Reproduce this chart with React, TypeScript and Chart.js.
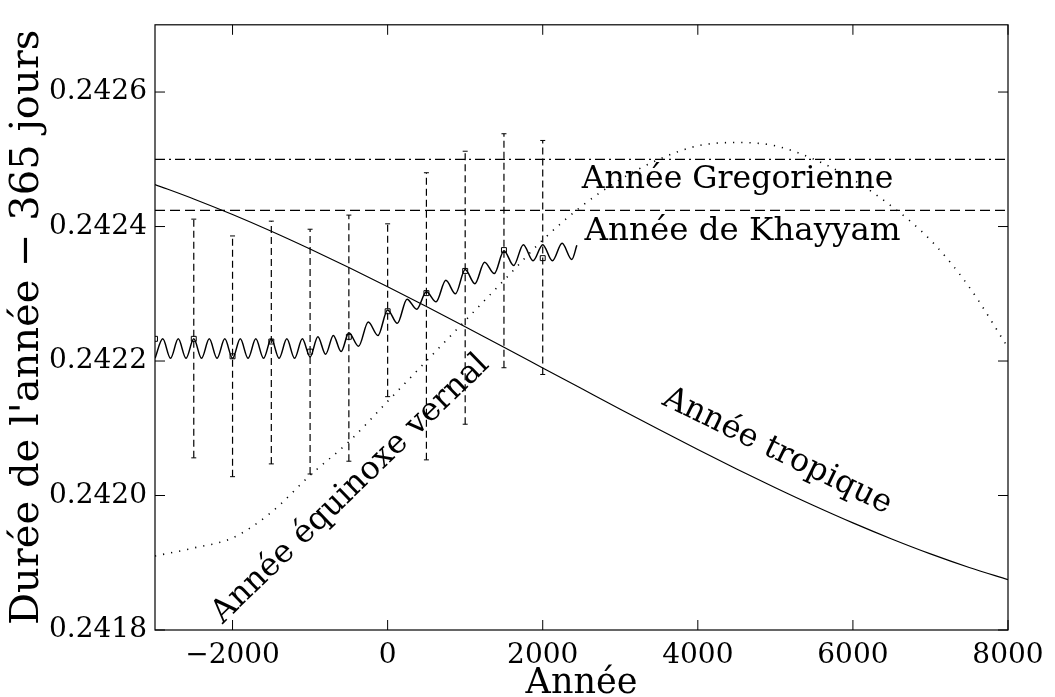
import React, { useEffect, useRef } from "react";
import { Chart, registerables } from "chart.js";

Chart.register(...registerables);

// ---------- data ----------
const xTickValues = [-2000, 0, 2000, 4000, 6000, 8000];
const yTickValues = [0.2418, 0.242, 0.2422, 0.2424, 0.2426];

const curveYears = [
  -3000, -2500, -2000, -1500, -1000, -500, 0, 500, 1000, 1500, 2000, 2500,
  3000, 3500, 4000, 4500, 5000, 5500, 6000, 6500, 7000, 7500, 8000,
];
const tropicalValues = [
  0.2424625, 0.242441, 0.2424178, 0.2423929, 0.2423665, 0.242339, 0.2423104,
  0.242281, 0.2422509, 0.2422204, 0.2421897, 0.242159, 0.2421283, 0.2420981,
  0.2420684, 0.2420395, 0.2420116, 0.2419848, 0.2419593, 0.2419354,
  0.2419132, 0.241893, 0.2418749,
];
const vernalValues = [
  0.24191, 0.241922, 0.241937, 0.241975, 0.24203, 0.24208, 0.24214, 0.2422,
  0.24226, 0.24232, 0.24238, 0.24243, 0.24247, 0.2425, 0.24252, 0.242525,
  0.24252, 0.2425, 0.24247, 0.24243, 0.24238, 0.24231, 0.24222,
];

const waveYears = [
  -3000, -2900, -2800, -2700, -2600, -2500, -2400, -2300, -2200, -2100,
  -2000, -1900, -1800, -1700, -1600, -1500, -1400, -1300, -1200, -1100,
  -1000, -900, -800, -700, -600, -500, -375, -250, -125, 0, 125, 250, 375,
  500, 625, 750, 875, 1000, 1125, 1250, 1375, 1500, 1625, 1750, 1875, 2000,
  2125, 2250, 2375, 2440,
];
const waveValues = [
  0.242204, 0.242233, 0.242204, 0.242233, 0.242204, 0.242233, 0.242204,
  0.242233, 0.242204, 0.242233, 0.242204, 0.242233, 0.242204, 0.242233,
  0.242204, 0.242233, 0.242204, 0.242233, 0.242204, 0.242233, 0.242206,
  0.242236, 0.24221, 0.242238, 0.242214, 0.242242, 0.242222, 0.242258,
  0.242238, 0.242276, 0.242256, 0.242292, 0.242277, 0.242303, 0.242288,
  0.24232, 0.2423, 0.242336, 0.242315, 0.242347, 0.24233, 0.242364,
  0.242342, 0.242373, 0.242349, 0.242373, 0.242349, 0.242375, 0.242351,
  0.242372,
];

const obsYears = [-3000, -2500, -2000, -1500, -1000, -500, 0, 500, 1000, 1500, 2000];
const obsValues = [
  0.242233, 0.242233, 0.242207, 0.242229, 0.242214, 0.242236, 0.242274,
  0.242301, 0.242334, 0.242365, 0.242353,
];
const barYears = [-2500, -2000, -1500, -1000, -500, 0, 500, 1000, 1500, 2000];
const barLow = [
  0.242056, 0.242028, 0.242047, 0.242032, 0.242051, 0.242147, 0.242053,
  0.242106, 0.24219, 0.24218,
];
const barHigh = [
  0.242411, 0.242386, 0.242408, 0.242396, 0.242417, 0.242404, 0.24248,
  0.242512, 0.242538, 0.242528,
];

const xRange = [-3000, 8000];
const yRange = [0.2418, 0.2427];
const gregorianValue = 0.2425;
const khayyamValue = 0.242424;

const labelTexts = [
  "Année Gregorienne",
  "Année de Khayyam",
  "Année tropique",
  "Année équinoxe vernal",
];
const xTitle = "Année";
const yTitle = "Durée de l'année \u2212 365 jours";

// ---------- style ----------
const FONT = '"DejaVu Serif", serif';

const annotationLayout = [
  { x: 2503, y: 0.242458, angle: 0, align: "left", size: 31.5 },
  { x: 2540, y: 0.24238, angle: 0, align: "left", size: 32.5 },
  { x: 4977, y: 0.2420546, angle: 26, align: "center", size: 32 },
  { x: -402, y: 0.2420008, angle: -44, align: "center", size: 32 },
];

const framePlugin = {
  id: "frame",
  afterDatasetsDraw(chart: any) {
    const { ctx, chartArea: a, scales } = chart;
    ctx.save();
    ctx.strokeStyle = "#000";
    ctx.lineWidth = 1.2;
    ctx.strokeRect(a.left, a.top, a.right - a.left, a.bottom - a.top);
    const len = 10;
    ctx.lineWidth = 1;
    ctx.beginPath();
    for (const v of xTickValues) {
      const px = scales.x.getPixelForValue(v);
      ctx.moveTo(px, a.bottom);
      ctx.lineTo(px, a.bottom - len);
      ctx.moveTo(px, a.top);
      ctx.lineTo(px, a.top + len);
    }
    for (const v of yTickValues) {
      const py = scales.y.getPixelForValue(v);
      ctx.moveTo(a.left, py);
      ctx.lineTo(a.left + len, py);
      ctx.moveTo(a.right, py);
      ctx.lineTo(a.right - len, py);
    }
    ctx.stroke();

    // text annotations
    ctx.fillStyle = "#000";
    ctx.textBaseline = "alphabetic";
    labelTexts.forEach((t, i) => {
      const L = annotationLayout[i];
      const px = scales.x.getPixelForValue(L.x);
      const py = scales.y.getPixelForValue(L.y);
      ctx.save();
      ctx.font = `${L.size}px ${FONT}`;
      ctx.translate(px, py);
      ctx.rotate((L.angle * Math.PI) / 180);
      ctx.textAlign = L.align as CanvasTextAlign;
      ctx.fillText(t, 0, 0);
      ctx.restore();
    });
    ctx.restore();
  },
};

export default function App() {
  const ref = useRef<HTMLCanvasElement | null>(null);
  useEffect(() => {
    if (!ref.current) return;
    const pts = (xs: number[], ys: number[]) => xs.map((x, i) => ({ x, y: ys[i] }));
    const barData: any[] = [];
    barYears.forEach((x, i) => {
      barData.push({ x, y: barLow[i] }, { x, y: barHigh[i] }, { x, y: null });
    });
    const capData: any[] = [];
    barYears.forEach((x, i) => {
      capData.push({ x, y: barLow[i] }, { x, y: barHigh[i] });
    });
    const base = {
      borderColor: "#000",
      backgroundColor: "transparent",
      pointRadius: 0,
      fill: false,
    };
    const chart = new Chart(ref.current, {
      type: "line",
      data: {
        datasets: [
          {
            ...base,
            label: "Année tropique",
            data: pts(curveYears, tropicalValues),
            borderWidth: 1.2,
            cubicInterpolationMode: "monotone",
          },
          {
            ...base,
            label: "Année équinoxe vernal",
            data: pts(curveYears, vernalValues),
            borderWidth: 1.6,
            borderDash: [1.2, 7],
            cubicInterpolationMode: "monotone",
          },
          {
            ...base,
            label: "Année Gregorienne",
            data: pts(xRange, [gregorianValue, gregorianValue]),
            borderWidth: 1.2,
            borderDash: [10, 4, 2, 4],
          },
          {
            ...base,
            label: "Année de Khayyam",
            data: pts(xRange, [khayyamValue, khayyamValue]),
            borderWidth: 1.2,
            borderDash: [10, 5],
          },
          {
            ...base,
            label: "Barres",
            data: barData,
            borderWidth: 1.2,
            borderDash: [7, 4],
            spanGaps: false,
          },
          {
            ...base,
            label: "Caps",
            data: capData,
            showLine: false,
            pointStyle: "line",
            pointRadius: 2.5,
            pointBorderWidth: 1,
            pointBorderColor: "#000",
          },
          {
            ...base,
            label: "Onde",
            data: pts(waveYears, waveValues),
            borderWidth: 1.5,
            cubicInterpolationMode: "monotone",
          },
          {
            ...base,
            label: "Mesures",
            data: pts(obsYears, obsValues),
            showLine: false,
            pointStyle: "rect",
            pointRadius: 3.5,
            pointBorderWidth: 1,
            pointBorderColor: "#000",
            pointBackgroundColor: "transparent",
          },
        ],
      },
      options: {
        responsive: false,
        animation: false,
        events: [],
        layout: { padding: { top: 7, right: 47, bottom: 0, left: 0 } },
        plugins: { legend: { display: false }, tooltip: { enabled: false } },
        scales: {
          x: {
            type: "linear",
            min: xRange[0],
            max: xRange[1],
            grid: { display: false, drawTicks: false },
            border: { display: false },
            ticks: {
              color: "#000",
              font: { family: FONT, size: 28 },
              padding: 9,
              maxRotation: 0,
              callback: (v: any) => (v < 0 ? "\u2212" + Math.abs(v) : String(v)),
            },
            title: {
              display: true,
              text: xTitle,
              color: "#000",
              font: { family: FONT, size: 35, lineHeight: 1 },
              padding: { top: 0, bottom: -4 },
            },
            afterBuildTicks: (s: any) => {
              s.ticks = xTickValues.map((value) => ({ value }));
            },
            afterFit: (s: any) => {
              s.height = 67;
            },
          },
          y: {
            type: "linear",
            min: yRange[0],
            max: yRange[1],
            grid: { display: false, drawTicks: false },
            border: { display: false },
            ticks: {
              color: "#000",
              font: { family: FONT, size: 28 },
              padding: 8,
              callback: (v: any) => Number(v).toFixed(4),
            },
            title: {
              display: true,
              text: yTitle,
              color: "#000",
              font: { family: FONT, size: 40, lineHeight: 1 },
              padding: { top: 8, bottom: 0 },
            },
            afterBuildTicks: (s: any) => {
              s.ticks = yTickValues.map((value) => ({ value }));
            },
            afterFit: (s: any) => {
              s.width = 155;
            },
          },
        },
      },
      plugins: [framePlugin],
    } as any);
    return () => chart.destroy();
  }, []);
  return (
    <div style={{ position: "absolute", left: 0, top: 0, width: 1055, height: 697, background: "#fff" }}>
      <canvas ref={ref} width={1055} height={697} style={{ width: 1055, height: 697, display: "block" }} />
    </div>
  );
}
